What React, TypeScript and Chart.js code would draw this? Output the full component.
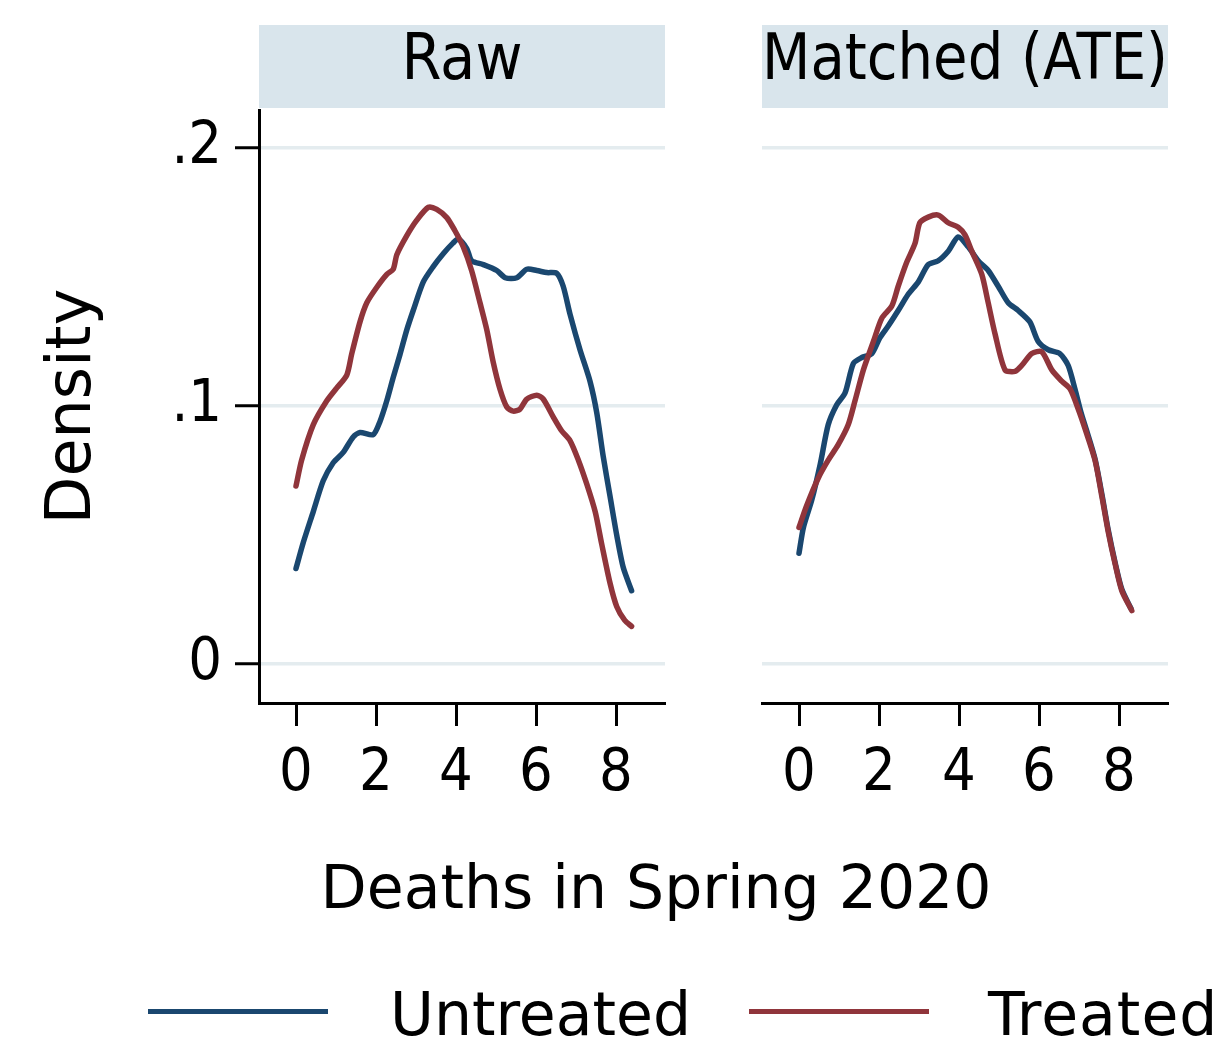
import React, { useEffect, useRef } from "react";
import { Chart, registerables } from "chart.js";

Chart.register(...registerables);

const FONT = "'DejaVu Sans Condensed', 'DejaVu Sans', sans-serif";
const FONT_WIDE = "'DejaVu Sans', sans-serif";
const NAVY = "#1a476f";
const MAROON = "#90353b";
const STRIP = "#d9e5ec";
const GRID = "#e4ecef";

// ---- data ----
const panelTitles = ["Raw", "Matched (ATE)"];
const seriesNames = ["Untreated", "Treated"];
const xTickValues = [0, 2, 4, 6, 8];
const yTickValues = [0, 0.1, 0.2];
const yTickLabels = ["0", ".1", ".2"];
const xRange = [-0.925, 9.225];
const yRange = [-0.0151, 0.2147];
const yAxisTitle = "Density";
const xAxisTitle = "Deaths in Spring 2020";

const rawUntreatedX = [0, 0.18, 0.43, 0.68, 0.93, 1.18, 1.43, 1.6, 1.93, 2.1, 2.27, 2.43, 2.6, 2.77, 2.93, 3.18, 3.43, 3.68, 3.93, 4.06, 4.27, 4.39, 4.68, 5.02, 5.23, 5.52, 5.77, 6.02, 6.27, 6.52, 6.68, 6.85, 7.1, 7.35, 7.52, 7.68, 7.85, 8.02, 8.18, 8.39];
const rawUntreatedY = [0.037, 0.047, 0.059, 0.071, 0.078, 0.082, 0.088, 0.0897, 0.0889, 0.094, 0.102, 0.111, 0.12, 0.1295, 0.137, 0.148, 0.154, 0.159, 0.1632, 0.1647, 0.161, 0.1563, 0.1548, 0.1525, 0.1497, 0.1497, 0.153, 0.1525, 0.1517, 0.1514, 0.1464, 0.1356, 0.1218, 0.1096, 0.0973, 0.0805, 0.0651, 0.0498, 0.0375, 0.0284];

const rawTreatedX = [0, 0.14, 0.43, 0.77, 1.02, 1.27, 1.39, 1.6, 1.77, 2.02, 2.27, 2.43, 2.52, 2.77, 3.02, 3.31, 3.52, 3.77, 3.97, 4.18, 4.39, 4.6, 4.77, 4.93, 5.1, 5.27, 5.43, 5.6, 5.77, 6.02, 6.18, 6.43, 6.64, 6.85, 7.06, 7.27, 7.48, 7.64, 7.85, 8.02, 8.22, 8.39];
const rawTreatedY = [0.069, 0.079, 0.0927, 0.102, 0.107, 0.112, 0.12, 0.1326, 0.14, 0.146, 0.151, 0.153, 0.1586, 0.166, 0.172, 0.177, 0.1762, 0.173, 0.168, 0.1617, 0.1525, 0.14, 0.1295, 0.117, 0.1065, 0.0996, 0.098, 0.0988, 0.1027, 0.1042, 0.1027, 0.0958, 0.0904, 0.0866, 0.079, 0.0697, 0.059, 0.0467, 0.0314, 0.0222, 0.0169, 0.0146];

const matchedUntreatedX = [0, 0.11, 0.32, 0.53, 0.73, 0.94, 1.15, 1.36, 1.57, 1.82, 2.02, 2.23, 2.48, 2.73, 2.98, 3.23, 3.48, 3.73, 3.98, 4.23, 4.48, 4.73, 4.98, 5.23, 5.48, 5.77, 5.98, 6.23, 6.52, 6.73, 6.9, 7.05, 7.2, 7.4, 7.57, 7.73, 7.9, 8.07, 8.3];
const matchedUntreatedY = [0.0429, 0.0529, 0.0636, 0.0774, 0.0927, 0.1004, 0.105, 0.1165, 0.1188, 0.1203, 0.1264, 0.131, 0.137, 0.1433, 0.148, 0.1548, 0.1563, 0.16, 0.1655, 0.1617, 0.1563, 0.1525, 0.1464, 0.14, 0.137, 0.1326, 0.125, 0.1218, 0.1203, 0.1157, 0.1065, 0.0975, 0.09, 0.0795, 0.066, 0.052, 0.0395, 0.029, 0.0215];

const matchedTreatedX = [0, 0.19, 0.48, 0.73, 0.98, 1.23, 1.4, 1.61, 1.86, 2.07, 2.32, 2.48, 2.69, 2.9, 3.02, 3.23, 3.48, 3.73, 3.98, 4.15, 4.32, 4.57, 4.73, 4.9, 5.15, 5.4, 5.57, 5.82, 6.07, 6.32, 6.57, 6.78, 6.98, 7.15, 7.4, 7.57, 7.73, 7.9, 8.07, 8.32];
const matchedTreatedY = [0.0529, 0.0613, 0.072, 0.079, 0.085, 0.0927, 0.102, 0.114, 0.125, 0.134, 0.1387, 0.1464, 0.1556, 0.163, 0.171, 0.1732, 0.174, 0.171, 0.1693, 0.1663, 0.16, 0.151, 0.14, 0.128, 0.114, 0.1134, 0.1157, 0.1203, 0.121, 0.114, 0.1096, 0.1065, 0.0988, 0.0912, 0.079, 0.0651, 0.0513, 0.039, 0.0284, 0.0207];

const toPoints = (xs: number[], ys: number[]) => xs.map((x, i) => ({ x, y: ys[i] }));

const stripPlugin = {
  id: "stripBg",
  beforeDraw(chart: any) {
    const t = chart.titleBlock;
    const a = chart.chartArea;
    if (!t || !a) return;
    const ctx = chart.ctx;
    ctx.save();
    ctx.fillStyle = STRIP;
    ctx.fillRect(a.left, t.top, a.right - a.left, 83);
    ctx.restore();
  },
};

function makeConfig(
  title: string,
  ux: number[],
  uy: number[],
  tx: number[],
  ty: number[],
  showY: boolean,
  yWidth: number,
  padRight: number
): any {
  return {
    type: "line",
    data: {
      datasets: [
        {
          label: seriesNames[0],
          data: toPoints(ux, uy),
          borderColor: NAVY,
          backgroundColor: NAVY,
          order: 1,
        },
        {
          label: seriesNames[1],
          data: toPoints(tx, ty),
          borderColor: MAROON,
          backgroundColor: MAROON,
          order: 0,
        },
      ],
    },
    plugins: [stripPlugin],
    options: {
      responsive: false,
      animation: false,
      events: [],
      layout: { padding: { top: 25, right: padRight, left: 0, bottom: 0 } },
      elements: {
        point: { radius: 0 },
        line: { borderWidth: 5.5, tension: 0.25, fill: false, borderCapStyle: "round", borderJoinStyle: "round" },
      },
      plugins: {
        legend: { display: false },
        tooltip: { enabled: false },
        title: {
          display: true,
          text: title,
          fullSize: false,
          color: "#000",
          font: { family: FONT, size: 64, weight: "normal", lineHeight: "74px" },
          padding: { top: 0, bottom: 11 },
        },
      },
      scales: {
        x: {
          type: "linear",
          min: xRange[0],
          max: xRange[1],
          afterBuildTicks: (s: any) => {
            s.ticks = xTickValues.map((v) => ({ value: v }));
          },
          afterFit: (s: any) => {
            s.height = 127;
          },
          border: { display: true, color: "#000", width: 3 },
          grid: {
            drawOnChartArea: false,
            drawTicks: true,
            tickLength: 23,
            tickColor: "#000",
            tickWidth: 3,
          },
          ticks: {
            color: "#000",
            font: { family: FONT, size: 59 },
            padding: 13,
            maxRotation: 0,
            autoSkip: false,
            callback: (v: number) => String(v),
          },
        },
        y: {
          type: "linear",
          min: yRange[0],
          max: yRange[1],
          afterBuildTicks: (s: any) => {
            s.ticks = yTickValues.map((v) => ({ value: v }));
          },
          afterFit: (s: any) => {
            s.width = yWidth;
          },
          border: { display: showY, color: "#000", width: 3 },
          grid: {
            color: GRID,
            lineWidth: 3.5,
            drawTicks: showY,
            tickLength: showY ? 24 : 0,
            tickColor: "#000",
            tickWidth: 3,
          },
          ticks: {
            display: showY,
            color: "#000",
            font: { family: FONT, size: 59 },
            padding: 13,
            callback: (v: number) => {
              const i = yTickValues.indexOf(v);
              return i >= 0 ? yTickLabels[i] : "";
            },
          },
          title: {
            display: showY,
            text: yAxisTitle,
            color: "#000",
            font: { family: FONT_WIDE, size: 62, lineHeight: 1 },
            padding: { top: 43, bottom: 0 },
          },
        },
      },
    },
  };
}

function Panel(props: {
  left: number;
  width: number;
  height: number;
  config: () => any;
}) {
  const ref = useRef<HTMLCanvasElement | null>(null);
  useEffect(() => {
    if (!ref.current) return;
    const chart = new Chart(ref.current, props.config());
    return () => chart.destroy();
  }, []);
  return (
    <canvas
      ref={ref}
      width={props.width}
      height={props.height}
      style={{
        position: "absolute",
        left: props.left,
        top: 0,
        width: props.width,
        height: props.height,
      }}
    />
  );
}

const textStyle: React.CSSProperties = {
  position: "absolute",
  fontFamily: FONT_WIDE,
  color: "#000",
  whiteSpace: "nowrap",
  fontSize: 60,
  lineHeight: "64px",
};

export default function App() {
  return (
    <div
      style={{
        position: "absolute",
        left: 0,
        top: 0,
        width: 1230,
        height: 1048,
        background: "#fff",
        overflow: "hidden",
      }}
    >
      <Panel
        left={0}
        width={700}
        height={830}
        config={() =>
          makeConfig(panelTitles[0], rawUntreatedX, rawUntreatedY, rawTreatedX, rawTreatedY, true, 259, 35)
        }
      />
      <Panel
        left={700}
        width={530}
        height={830}
        config={() =>
          makeConfig(
            panelTitles[1],
            matchedUntreatedX,
            matchedUntreatedY,
            matchedTreatedX,
            matchedTreatedY,
            false,
            62,
            62
          )
        }
      />
      <div style={{ ...textStyle, left: 656, top: 855, transform: "translateX(-50%)" }}>
        {xAxisTitle}
      </div>
      <div
        style={{ position: "absolute", left: 148, top: 1009, width: 180, height: 5, background: NAVY }}
      />
      <div style={{ ...textStyle, left: 390, top: 982 }}>{seriesNames[0]}</div>
      <div
        style={{ position: "absolute", left: 749, top: 1009, width: 180, height: 5, background: MAROON }}
      />
      <div style={{ ...textStyle, left: 988, top: 982, letterSpacing: 1 }}>{seriesNames[1]}</div>
    </div>
  );
}
